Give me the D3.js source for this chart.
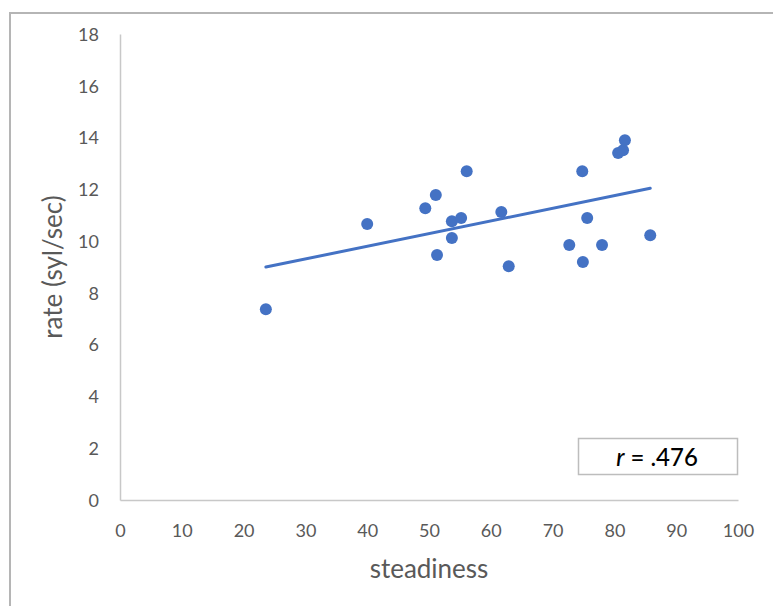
<!DOCTYPE html>
<html>
<head>
<meta charset="utf-8">
<script src="https://cdn.jsdelivr.net/npm/d3@7"></script>
<style>
  html, body { margin: 0; padding: 0; background: #fff; }
  svg { display: block; font-family: Lato, "Open Sans", sans-serif; }
</style>
</head>
<body>
<svg id="chart" width="773" height="606"></svg>
<script>
// Steadiness score and speaking rate (syllables per second) per speaker
const steadiness = [23.6, 40.0, 49.4, 51.1, 51.3, 53.7, 53.7, 55.2, 56.1, 61.7,
                    62.9, 72.7, 74.8, 74.9, 75.6, 78.0, 80.6, 81.4, 81.7, 85.8];
const rate = [7.37, 10.66, 11.27, 11.78, 9.46, 10.77, 10.12, 10.89, 12.70, 11.12,
              9.03, 9.85, 12.70, 9.19, 10.89, 9.85, 13.40, 13.51, 13.90, 10.23];

const xTicks = [0, 10, 20, 30, 40, 50, 60, 70, 80, 90, 100];
const yTicks = [0, 2, 4, 6, 8, 10, 12, 14, 16, 18];
const xTitle = "steadiness";
const yTitle = "rate (syl/sec)";
const corrLabel = [".476"];

const svg = d3.select("#chart");
const blue = "#4472C4";
const axisGrey = "#c8c8c8";
const textGrey = "#595959";

const x = d3.scaleLinear().domain([0, 100]).range([120, 738]);
const y = d3.scaleLinear().domain([0, 18]).range([500, 34]);

// outer chart frame (top and left edges)
svg.append("path")
  .attr("d", "M10,606 V13 H773")
  .attr("fill", "none")
  .attr("stroke", "#b5b5b5")
  .attr("stroke-width", 2);

// x axis
const gx = svg.append("g")
  .attr("transform", `translate(0,${y(0)})`)
  .call(d3.axisBottom(x).tickValues(xTicks).tickSize(0).tickFormat(d3.format("d")));
gx.select(".domain").attr("stroke", axisGrey).attr("stroke-width", 1.5);
gx.selectAll("text")
  .attr("y", 37).attr("dy", 0)
  .attr("fill", textGrey).attr("font-size", 18).attr("font-family", "Lato, sans-serif");

// y axis
const gy = svg.append("g")
  .attr("transform", `translate(${x(0)},0)`)
  .call(d3.axisLeft(y).tickValues(yTicks).tickSize(0).tickFormat(d3.format("d")));
gy.select(".domain").attr("stroke", axisGrey).attr("stroke-width", 1.5);
gy.selectAll("text")
  .attr("x", -21).attr("dy", "0.35em")
  .attr("fill", textGrey).attr("font-size", 18).attr("font-family", "Lato, sans-serif");

// axis titles
svg.append("text")
  .attr("x", 429).attr("y", 578)
  .attr("text-anchor", "middle")
  .attr("fill", textGrey).attr("font-size", 26)
  .text(xTitle);

svg.append("text")
  .attr("transform", "translate(62,267) rotate(-90)")
  .attr("text-anchor", "middle")
  .attr("fill", textGrey).attr("font-size", 26)
  .text(yTitle);

// least-squares trend line over the observed steadiness range
const data = steadiness.map((s, i) => ({ s, r: rate[i] }));
const mx = d3.mean(steadiness), my = d3.mean(rate);
const sxy = d3.sum(data, d => (d.s - mx) * (d.r - my));
const sxx = d3.sum(data, d => (d.s - mx) ** 2);
const slope = sxy / sxx;
const intercept = my - slope * mx;
const [xMin, xMax] = d3.extent(steadiness);

svg.append("line")
  .attr("x1", x(xMin)).attr("y1", y(intercept + slope * xMin))
  .attr("x2", x(xMax)).attr("y2", y(intercept + slope * xMax))
  .attr("stroke", blue).attr("stroke-width", 3).attr("stroke-linecap", "round");

// data points
svg.append("g")
  .selectAll("circle")
  .data(data)
  .join("circle")
  .attr("cx", d => x(d.s))
  .attr("cy", d => y(d.r))
  .attr("r", 6)
  .attr("fill", blue);

// correlation box
svg.append("rect")
  .attr("x", 578.5).attr("y", 438.5)
  .attr("width", 159).attr("height", 36)
  .attr("fill", "#fff")
  .attr("stroke", "#bdbdbd").attr("stroke-width", 1.5);

const t = svg.append("text")
  .attr("x", 657).attr("y", 466)
  .attr("text-anchor", "middle")
  .attr("fill", "#000").attr("font-size", 24)
  .attr("font-weight", 500);
t.append("tspan").attr("font-style", "italic").text("r");
t.append("tspan").text(" = " + corrLabel[0]);
</script>
</body>
</html>
